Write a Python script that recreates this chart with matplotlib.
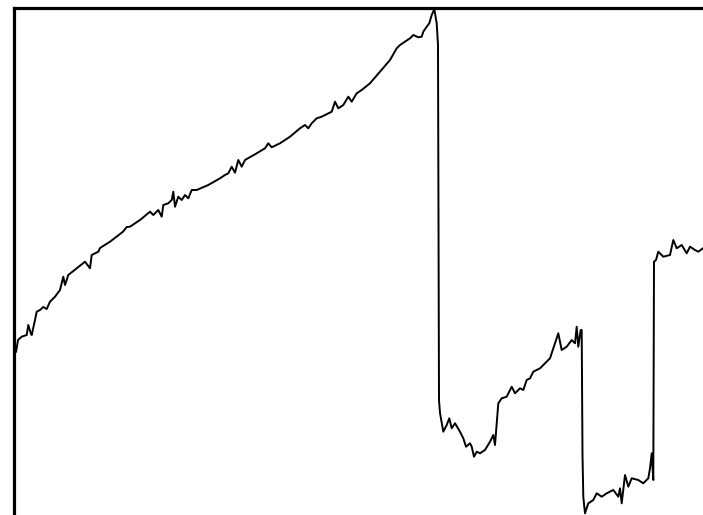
import matplotlib
matplotlib.use("Agg")
import matplotlib.pyplot as plt

# readings: t = sample position, v = level
t = [14, 16, 18, 21.7, 26.7, 28.3, 30.7, 31.7, 35, 36.7, 40, 43.3, 46.7, 50, 55, 60,
     63.3, 65, 68.3, 76.7, 85, 90, 91.7, 98.3, 100, 110, 123, 126.7, 130, 140,
     150, 153.3, 158.3, 161.7, 163.3, 168.3, 171.7, 173.3, 175, 178.3, 181.7, 185,
     188.3, 191.7, 196.7, 208.3, 220, 225, 228.3, 231.7, 235, 238.3, 241.7, 245,
     256.7, 265, 268.3, 271.7, 280, 290, 300,
     305, 308.3, 311.7, 316.7, 321.7, 331.7, 335, 338.3, 343.3, 348.3, 351.7, 356.7,
     361.7, 370, 380, 390, 396.7, 400, 405, 410, 413.3, 418.3, 421.7, 423.3, 426.7,
     429.3, 431.7, 434.3, 436.7, 438,
     439, 440, 443.3, 446.7, 449.3, 451.7, 455, 460, 463.3, 466, 470, 471.7, 474,
     476.7, 480, 485, 490, 493.3, 495, 498.3, 501.7, 506.7, 511.7, 515, 520, 523.3,
     526.7, 530, 533.3, 540, 550, 553.3, 558.3, 561.7, 566.7, 571.7, 575, 576.7,
     578.3, 580.7, 581.7, 582.5,
     583.3, 585, 588.3, 593.3, 596.7, 601.7, 606.7, 613.3, 618.3, 620, 621.7, 625,
     628.3, 631.7, 638.3, 643.3, 648.3, 650, 651.7, 653.3, 654, 656, 658.3, 663.3,
     670, 673.3, 676.7, 681.7, 686.7, 690, 695, 698.3, 703]
v = [170, 163, 175, 178.3, 180, 190, 182, 180, 195, 203.3, 205, 208, 206, 213.3, 218.3, 225,
     238.3, 230, 240, 246.7, 253.3, 246.7, 260, 263.3, 267, 273.3, 283.3, 288, 288.3, 295,
     303.3, 300, 305, 298.3, 310, 311.7, 315, 323.3, 308.3, 318.3, 315, 320,
     316.7, 325, 325, 330, 336.7, 340, 341.7, 348.3, 342.3, 355, 348.3, 355,
     361.7, 366.7, 371.7, 367.7, 371.7, 378.3, 386.7,
     390, 386.7, 391.7, 396.7, 398.3, 403.3, 413.3, 406.7, 410, 418.3, 413.3, 421.7,
     425, 431.7, 443.3, 455, 466.7, 470, 473.3, 476.7, 480, 477.7, 478.3, 483.3, 488.3,
     491.7, 500, 505.7, 491.7, 470,
     115, 102, 83.3, 90, 96.7, 86.7, 91.7, 83.3, 76.7, 68.3, 71.7, 68.3, 58.3,
     63.3, 61.7, 65, 73.3, 80, 70, 111.7, 116.7, 118.3, 128.3, 121.7, 126.7, 125,
     135, 136.7, 143.3, 146.7, 156.7, 166.7, 181.7, 165, 168.3, 175, 171.7, 188.3,
     168.3, 185, 185, 60,
     18.3, 1.7, 11.7, 15, 21.7, 18.3, 21.7, 25, 18.3, 26.7, 11.7, 40,
     28.3, 36.7, 35, 31.7, 36.7, 46.7, 61.7, 35, 253.3, 255, 263.3, 258.3,
     260, 275, 266.7, 270, 261.7, 268.3, 265, 263.3, 266.7]

W, H = 703, 515
fig = plt.figure(figsize=(W / 100, H / 100), dpi=100)
left = 13.5 / W
top = 1 - 7.5 / H
ax = fig.add_axes([left, -0.05, 1.05 - left, top + 0.05])
ax.plot(t, v, color="black", lw=1.4)
ax.set_xlim(13.5, 13.5 + (1.05 - left) * W)
ax.set_ylim(-0.05 * H, H - 7.5)
ax.set_xticks([])
ax.set_yticks([])
for side in ["right", "bottom"]:
    ax.spines[side].set_visible(False)
for side in ["left", "top"]:
    ax.spines[side].set_linewidth(2.3)
fig.savefig("out.png", dpi=100)
